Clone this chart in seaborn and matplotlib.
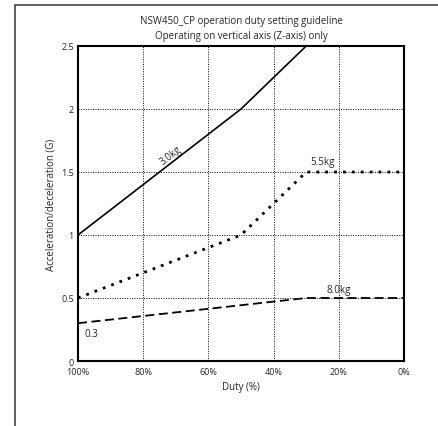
import matplotlib
matplotlib.use("Agg")
import matplotlib.pyplot as plt
import seaborn as sns
import pandas as pd
from matplotlib.patches import Rectangle

sns.set_style("white")
plt.rcParams['font.family'] = ['Open Sans', 'DejaVu Sans']

duty_30 = [100, 50, 30]
acc_30 = [1.0, 2.0, 2.5]
duty_55 = [100, 50, 30, 0]
acc_55 = [0.5, 1.0, 1.5, 1.5]
duty_80 = [100, 30, 0]
acc_80 = [0.3, 0.5, 0.5]
x_ticks = [100, 80, 60, 40, 20, 0]
x_labels = ["100%", "80%", "60%", "40%", "20%", "0%"]
y_ticks = [0, 0.5, 1, 1.5, 2, 2.5]
y_labels = ["0", "0.5", "1", "1.5", "2", "2.5"]

fig = plt.figure(figsize=(4.39, 4.27), dpi=100)
W, H = 439, 427
ax = fig.add_axes([78 / W, 1 - 362 / H, (404 - 78) / W, (362 - 47) / H])

# outer frame
fig.patches.append(Rectangle((15 / W, -0.1), 1.2, 1 - 6 / H + 0.1,
                             transform=fig.transFigure, fill=False,
                             edgecolor="#444444", linewidth=1.2))

df30 = pd.DataFrame({"duty": duty_30, "acc": acc_30})
df55 = pd.DataFrame({"duty": duty_55, "acc": acc_55})
df80 = pd.DataFrame({"duty": duty_80, "acc": acc_80})

sns.lineplot(data=df30, x="duty", y="acc", ax=ax, color="black", linewidth=1.2,
             estimator=None, sort=False)
sns.lineplot(data=df55, x="duty", y="acc", ax=ax, color="black", linewidth=2.0,
             linestyle=(0, (1, 2.2)), estimator=None, sort=False)
sns.lineplot(data=df80, x="duty", y="acc", ax=ax, color="black", linewidth=1.3,
             linestyle=(0, (5, 2.5)), estimator=None, sort=False)

ax.set_xlim(100, 0)
ax.set_ylim(0, 2.5)
ax.set_xticks(x_ticks)
ax.set_xticklabels(x_labels, fontsize=6.5)
ax.set_yticks(y_ticks)
ax.set_yticklabels(y_labels, fontsize=6.5)
ax.tick_params(axis="x", length=0, pad=4)
ax.tick_params(axis="y", length=0, pad=3)
ax.grid(True, color="black", linestyle=(0, (1, 1.5)), linewidth=0.7)
for s in ax.spines.values():
    s.set_visible(True)
    s.set_color("black")
    s.set_linewidth(1.5)

ax.set_xlabel("Duty (%)", fontsize=7, labelpad=4)
ax.set_ylabel("Acceleration/deceleration (G)", fontsize=7, labelpad=3)
ax.set_title("NSW450_CP operation duty setting guideline\nOperating on vertical axis (Z-axis) only",
             fontsize=7, linespacing=1.5, pad=6)

ax.text(71.5, 1.63, "3.0kg", rotation=38, fontsize=7, ha="center", va="center")
ax.text(25, 1.58, "5.5kg", fontsize=7, ha="center", va="center")
ax.text(20, 0.57, "8.0kg", fontsize=7, ha="center", va="center")
ax.text(96, 0.22, "0.3", fontsize=7, ha="center", va="center")

fig.savefig("out.png", dpi=100)
